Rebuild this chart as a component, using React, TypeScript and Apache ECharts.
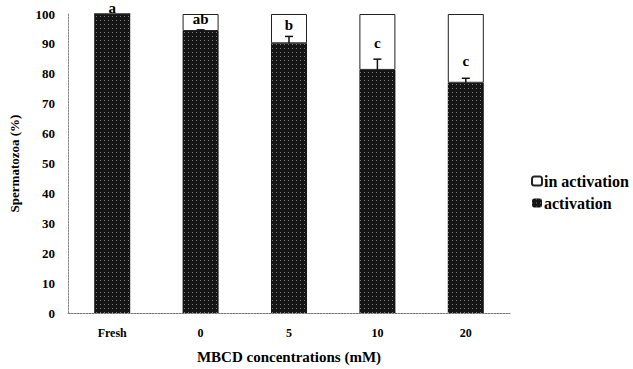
import React, { useEffect, useRef } from "react";
import * as echarts from "echarts";

const categories = ["Fresh", "0", "5", "10", "20"];
const activation = [100, 94.3, 90.2, 81.3, 77.0];
const inActivation = [0, 5.7, 9.8, 18.7, 23.0];
const errors = [0, 0.4, 2.3, 3.6, 1.5];
const letters = ["a", "ab", "b", "c", "c"];
const letterY = [102.1, 98.2, 96.4, 90.4, 84.2];
const yTicks = [0, 10, 20, 30, 40, 50, 60, 70, 80, 90, 100];

const FONT = "Liberation Serif";

export default function App() {
  const ref = useRef<HTMLDivElement>(null);
  useEffect(() => {
    if (!ref.current) return;
    const chart = echarts.init(ref.current, null, { renderer: "svg" });
    chart.setOption({
      animation: false,
      backgroundColor: "#fff",
      textStyle: { fontFamily: FONT },
      grid: { left: 68, right: 123, top: 14, bottom: 54 },
      legend: {
        orient: "vertical",
        left: 526,
        top: 168,
        itemWidth: 10,
        itemHeight: 9,
        itemGap: 6,
        data: ["in activation", "activation"],
        textStyle: { fontFamily: FONT, fontWeight: "bold", fontSize: 16, color: "#000", padding: [0, 0, 0, -3] },
      },
      xAxis: {
        type: "category",
        data: categories,
        axisTick: { show: false },
        axisLine: { lineStyle: { color: "#777", width: 1, type: [2, 1] } },
        axisLabel: { fontFamily: FONT, fontWeight: "bold", fontSize: 12, color: "#000", margin: 14 },
        name: "MBCD concentrations (mM)",
        nameLocation: "middle",
        nameGap: 36,
        nameTextStyle: { fontFamily: FONT, fontWeight: "bold", fontSize: 15, color: "#000" },
      },
      yAxis: {
        type: "value",
        min: 0,
        max: 100,
        interval: 10,
        axisTick: { show: false },
        splitLine: { show: false },
        axisLine: { show: true, lineStyle: { color: "#888", width: 1, type: [2, 1] } },
        axisLabel: {
          fontFamily: FONT,
          fontWeight: "bold",
          fontSize: 13,
          color: "#000",
          margin: 13,
          formatter: (v: number) => (yTicks.includes(v) ? String(v) : ""),
        },
        name: "Spermatozoa (%)",
        nameLocation: "middle",
        nameGap: 47,
        nameTextStyle: { fontFamily: FONT, fontWeight: "bold", fontSize: 13, color: "#000" },
      },
      series: [
        {
          name: "activation",
          type: "bar",
          stack: "s",
          barWidth: 36,
          data: activation,
          itemStyle: {
            color: "#151515",
            decal: {
              symbol: "rect",
              symbolSize: 1,
              color: "rgba(160,160,160,0.75)",
              dashArrayX: [1, 3],
              dashArrayY: [1, 3],
              rotation: 0,
            },
          },
        },
        {
          name: "in activation",
          type: "bar",
          stack: "s",
          barWidth: 36,
          data: inActivation,
          itemStyle: { color: "#fff", borderColor: "#222", borderWidth: 1 },
        },
        {
          name: "err",
          type: "custom",
          clip: false,
          data: categories.map((c, i) => [i, activation[i], errors[i], letters[i], letterY[i]]),
          renderItem: (params: any, api: any) => {
            const i = api.value(0);
            const v = api.value(1);
            const e = api.value(2);
            const base = api.coord([i, v]);
            const top = api.coord([i, v + e]);
            const lt = api.coord([i, api.value(4)]);
            const children: any[] = [];
            if (e > 0) {
              children.push({
                type: "line",
                shape: { x1: base[0], y1: base[1], x2: top[0], y2: top[1] },
                style: { stroke: "#111", lineWidth: 1.5 },
              });
              children.push({
                type: "line",
                shape: { x1: top[0] - 4, y1: top[1], x2: top[0] + 4, y2: top[1] },
                style: { stroke: "#111", lineWidth: 1.5 },
              });
            }
            children.push({
              type: "text",
              x: lt[0],
              y: lt[1],
              style: {
                text: letters[i],
                fontFamily: FONT,
                fontWeight: "bold",
                fontSize: 15,
                fill: "#000",
                align: "center",
                verticalAlign: "middle",
              },
            });
            return { type: "group", children };
          },
          z: 5,
        },
      ],
    });
    return () => chart.dispose();
  }, []);
  return (
    <div
      ref={ref}
      style={{ position: "absolute", left: 0, top: 0, width: 633, height: 369, background: "#fff" }}
    />
  );
}
